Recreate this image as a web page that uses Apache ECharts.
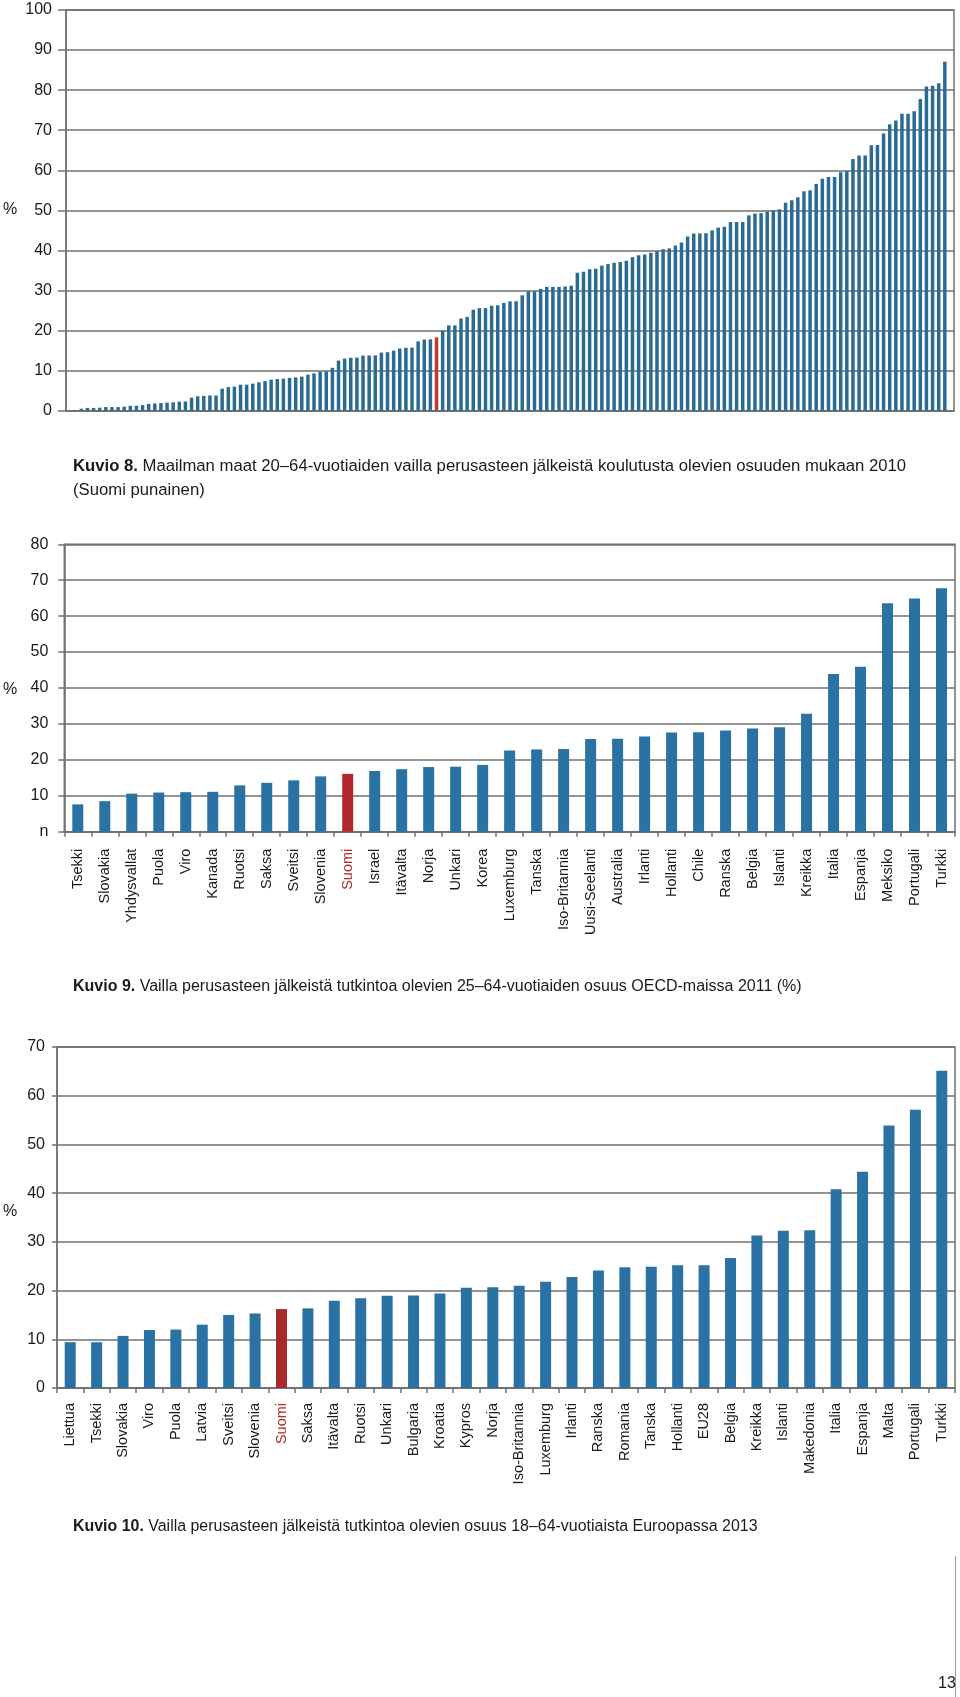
<!DOCTYPE html>
<html>
<head>
<meta charset="utf-8">
<script src="https://cdn.jsdelivr.net/npm/echarts@6/dist/echarts.min.js"></script>
<style>
html,body{margin:0;padding:0;background:#fff;}
#chart{width:960px;height:1697px;}
</style>
</head>
<body>
<div id="chart"></div>
<script>
// ---------- DATA ----------
// Kuvio 8: world countries sorted, Finland highlighted
const chart1Values = [
  0, 0,
  0.5,0.7,0.7,0.75,0.9,0.9,0.9,1.0,1.2,1.25,1.4,1.7,1.8,1.9,2.0,2.1,2.25,2.3,3.25,3.6,
  3.7,3.8,3.8,5.5,5.9,6.0,6.5,6.5,6.75,7.1,7.4,7.75,7.9,8.0,8.2,8.3,8.5,9.0,9.3,
  9.7,9.8,10.7,12.5,13.0,13.2,13.25,13.75,13.8,13.8,14.5,14.6,15.0,15.5,15.7,15.75,17.3,17.75,17.8,18.3,
  20.0,21.3,21.3,23.0,23.4,25.2,25.6,25.6,26.2,26.3,26.9,27.3,27.3,28.8,29.8,29.8,30.4,30.9,30.9,30.9,31.0,31.2,
  34.4,34.7,35.3,35.4,36.2,36.6,36.9,
  37.1,37.4,38.3,38.8,39.0,39.4,39.8,40.3,40.5,41.2,42.0,43.5,44.2,44.25,44.3,45.0,45.7,45.9,47.1,47.1,
  47.1,48.75,49.2,49.3,49.7,50.0,50.3,51.9,52.5,53.25,54.75,55.0,56.6,57.9,58.3,58.3,59.5,59.8,62.8,63.7,
  63.7,66.25,66.3,69.2,71.5,72.4,74.1,74.1,74.75,77.8,80.9,81.1,81.75,87.1,
  null
];
const chart1FinlandIndex = 60;
const chart1Categories = chart1Values.map((v, i) => i === chart1FinlandIndex ? 'Suomi' : 'Maa ' + (i + 1));
const chart1YTicks = ['0','10','20','30','40','50','60','70','80','90','100'];

// Kuvio 9: OECD 2011
const chart2Categories = ['Tsekki','Slovakia','Yhdysvallat','Puola','Viro','Kanada','Ruotsi','Saksa','Sveitsi','Slovenia','Suomi','Israel','Itävalta','Norja','Unkari','Korea','Luxemburg','Tanska','Iso-Britannia','Uusi-Seelanti','Australia','Irlanti','Hollanti','Chile','Ranska','Belgia','Islanti','Kreikka','Italia','Espanja','Meksiko','Portugali','Turkki'];
const chart2Values = [7.6,8.5,10.6,10.9,11.0,11.1,12.9,13.6,14.3,15.4,16.1,16.9,17.4,18.0,18.1,18.6,22.6,22.9,23.0,25.8,25.9,26.5,27.6,27.7,28.2,28.7,29.1,32.8,43.9,45.9,63.6,64.9,67.8];
const chart2YTicks = ['n','10','20','30','40','50','60','70','80'];

// Kuvio 10: Europe 2013
const chart3Categories = ['Liettua','Tsekki','Slovakia','Viro','Puola','Latvia','Sveitsi','Slovenia','Suomi','Saksa','Itävalta','Ruotsi','Unkari','Bulgaria','Kroatia','Kypros','Norja','Iso-Britannia','Luxemburg','Irlanti','Ranska','Romania','Tanska','Hollanti','EU28','Belgia','Kreikka','Islanti','Makedonia','Italia','Espanja','Malta','Portugali','Turkki'];
const chart3Values = [9.4,9.4,10.7,11.9,12.0,13.0,15.0,15.3,16.2,16.35,17.9,18.4,18.95,19.0,19.4,20.6,20.7,21.0,21.8,22.8,24.1,24.8,24.9,25.2,25.2,26.7,31.3,32.3,32.4,40.8,44.4,53.9,57.1,65.1];
const chart3YTicks = ['0','10','20','30','40','50','60','70'];

// ---------- STYLE ----------
const FONT = '"Liberation Sans", Arial, Helvetica, sans-serif';
const BLUE1 = '#2b6b93';
const BLUE = '#2a72a3';
const RED1 = '#c0392b';
const RED = '#b0282b';
const GRID = '#707070';
const TXT = '#1a1a1a';

const chart = echarts.init(document.getElementById('chart'), null, {renderer:'canvas', width:960, height:1697});

function yAxisDef(gridIndex, max, labels, margin, tickLen){
  return {
    type:'value', gridIndex, min:0, max, interval:10,
    axisLine:{show:true, lineStyle:{color:GRID, width:1.5}},
    axisTick:{show:true, length:tickLen, lineStyle:{color:GRID, width:1.5}},
    splitLine:{show:true, lineStyle:{color:GRID, width:1.5}},
    axisLabel:{color:TXT, fontFamily:FONT, fontSize:16, margin,
      formatter:(v)=> labels[Math.round(v/10)]}
  };
}
function xAxisDef(gridIndex, cats, highlight, showLabels, labelMargin){
  return {
    type:'category', gridIndex,
    data: cats.map(c => c === highlight && showLabels ? {value:c, textStyle:{color:RED}} : c),
    axisLine:{show:true, lineStyle:{color:GRID, width:1.5}},
    axisTick:{show:showLabels, length:5, interval:0, lineStyle:{color:GRID, width:1.5}},
    axisLabel:{show:showLabels, interval:0, rotate:90, color:TXT, fontFamily:FONT, fontSize:14.5, margin:labelMargin},
    splitLine:{show:false}
  };
}
function caption(top, size, boldPart, rest){
  return {type:'text', left:73, top, style:{
    text:'{b|' + boldPart + '} ' + rest,
    fill:TXT, font:size + 'px ' + FONT,
    rich:{b:{fontWeight:'bold', fontSize:size, fontFamily:FONT, fill:TXT}}}};
}

const option = {
  animation:false,
  backgroundColor:'#fff',
  grid:[
    {left:66, top:10, width:888, height:400.7, show:true, borderColor:GRID, borderWidth:1.5, containLabel:false},
    {left:64.3, top:544.3, width:890.7, height:287.4, show:true, borderColor:GRID, borderWidth:1.5, containLabel:false},
    {left:57, top:1047, width:898, height:341, show:true, borderColor:GRID, borderWidth:1.5, containLabel:false}
  ],
  xAxis:[
    xAxisDef(0, chart1Categories, 'Suomi', false, 0),
    xAxisDef(1, chart2Categories, 'Suomi', true, 17),
    xAxisDef(2, chart3Categories, 'Suomi', true, 15)
  ],
  yAxis:[
    yAxisDef(0, 100, chart1YTicks, 14, 8),
    yAxisDef(1, 80, chart2YTicks, 16, 6),
    yAxisDef(2, 70, chart3YTicks, 12, 5)
  ],
  series:[
    {type:'bar', xAxisIndex:0, yAxisIndex:0, barWidth:3.5,
     data: chart1Values.map((v,i)=> i === chart1FinlandIndex ? {value:v, itemStyle:{color:RED1}} : v),
     itemStyle:{color:BLUE1}},
    {type:'bar', xAxisIndex:1, yAxisIndex:1, barWidth:11,
     data: chart2Values.map((v,i)=> chart2Categories[i] === 'Suomi' ? {value:v, itemStyle:{color:RED}} : v),
     itemStyle:{color:BLUE}},
    {type:'bar', xAxisIndex:2, yAxisIndex:2, barWidth:11,
     data: chart3Values.map((v,i)=> chart3Categories[i] === 'Suomi' ? {value:v, itemStyle:{color:'#a8292b'}} : v),
     itemStyle:{color:BLUE}}
  ],
  graphic:[
    {type:'text', left:3, top:202, style:{text:'%', fill:TXT, font:'16px ' + FONT}},
    {type:'text', left:3, top:682, style:{text:'%', fill:TXT, font:'16px ' + FONT}},
    {type:'text', left:3, top:1204, style:{text:'%', fill:TXT, font:'16px ' + FONT}},
    caption(458, 16.7, 'Kuvio 8.', 'Maailman maat 20–64-vuotiaiden vailla perusasteen jälkeistä koulutusta olevien osuuden mukaan 2010'),
    {type:'text', left:73, top:482, style:{text:'(Suomi punainen)', fill:TXT, font:'16.7px ' + FONT}},
    caption(979, 16.0, 'Kuvio 9.', 'Vailla perusasteen jälkeistä tutkintoa olevien 25–64-vuotiaiden osuus OECD-maissa 2011 (%)'),
    caption(1519, 15.95, 'Kuvio 10.', 'Vailla perusasteen jälkeistä tutkintoa olevien osuus 18–64-vuotiaista Euroopassa 2013'),
    {type:'text', left:938, top:1676, style:{text:'13', fill:TXT, font:'16px ' + FONT}},
    {type:'line', shape:{x1:955.5, y1:1556, x2:955.5, y2:1697}, style:{stroke:'#9a9a9a', lineWidth:1}}
  ]
};
chart.setOption(option);
</script>
</body>
</html>
